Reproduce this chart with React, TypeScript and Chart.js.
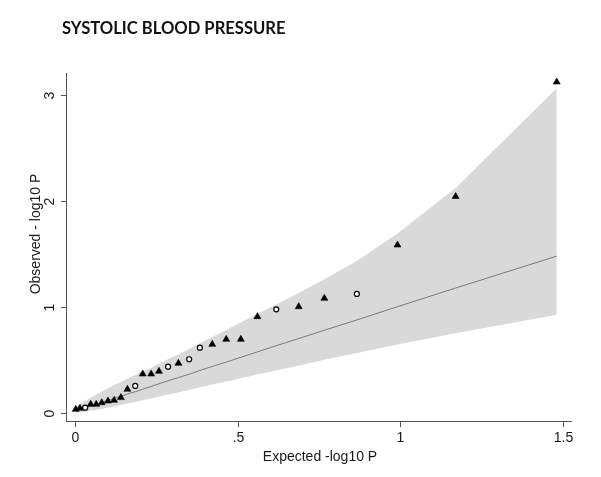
import React, { useEffect, useRef } from 'react';
import { Chart, registerables } from 'chart.js';

Chart.register(...registerables);

// ---- text ----
const TITLE = 'SYSTOLIC BLOOD PRESSURE';
const X_TITLE = 'Expected -log10 P';
const Y_TITLE = 'Observed - log10 P';

// ---- axes ----
const xTickValues = [0, 0.5, 1, 1.5];
const xTickLabels = ['0', '.5', '1', '1.5'];
const yTickValues = [0, 1, 2, 3];
const yTickLabels = ['0', '1', '2', '3'];

// ---- data (ordered from the largest expected value down) ----
const expected = [1.482, 1.171, 0.992, 0.867, 0.767, 0.688, 0.619, 0.561, 0.51, 0.465, 0.422, 0.384, 0.351, 0.318, 0.286, 0.258, 0.234, 0.208, 0.185, 0.161, 0.141, 0.12, 0.101, 0.082, 0.065, 0.048, 0.031, 0.015, 0.002];
const observed = [3.12, 2.04, 1.582, 1.12, 1.079, 1.0, 0.975, 0.906, 0.692, 0.692, 0.645, 0.613, 0.504, 0.466, 0.434, 0.391, 0.365, 0.365, 0.252, 0.221, 0.142, 0.117, 0.11, 0.094, 0.079, 0.079, 0.047, 0.042, 0.032];
const markerKind = ['T', 'T', 'T', 'O', 'T', 'T', 'O', 'T', 'T', 'T', 'T', 'O', 'O', 'T', 'O', 'T', 'T', 'T', 'O', 'T', 'T', 'T', 'T', 'T', 'T', 'T', 'O', 'T', 'T'];
// reference line (observed = expected) and 95% band, at the same x positions
const diagonal = [1.477, 1.176, 1.0, 0.875, 0.778, 0.699, 0.632, 0.574, 0.523, 0.477, 0.436, 0.398, 0.363, 0.331, 0.301, 0.273, 0.247, 0.222, 0.198, 0.176, 0.155, 0.135, 0.115, 0.097, 0.079, 0.062, 0.046, 0.03, 0.015];
const bandUpper = [3.06, 2.12, 1.69, 1.43, 1.26, 1.13, 1.02, 0.93, 0.85, 0.78, 0.715, 0.655, 0.6, 0.55, 0.505, 0.465, 0.425, 0.39, 0.355, 0.32, 0.29, 0.26, 0.23, 0.2, 0.17, 0.14, 0.11, 0.08, 0.05];
const bandLower = [0.923, 0.75, 0.643, 0.563, 0.499, 0.446, 0.399, 0.361, 0.325, 0.294, 0.265, 0.239, 0.215, 0.192, 0.171, 0.152, 0.134, 0.117, 0.101, 0.086, 0.072, 0.059, 0.047, 0.036, 0.026, 0.017, 0.009, 0.004, 0.0004];

const W = 601;
const H = 477;

const axesPlugin = {
  id: 'stataAxes',
  afterDraw(chart: any) {
    const { ctx, chartArea } = chart;
    const xs = chart.scales.x;
    const ys = chart.scales.y;
    const left = chartArea.left;
    const bottom = chartArea.bottom;
    ctx.save();
    ctx.strokeStyle = '#555';
    ctx.lineWidth = 1;
    // axis lines
    ctx.beginPath();
    ctx.moveTo(left + 0.5, chartArea.top);
    ctx.lineTo(left + 0.5, bottom);
    ctx.moveTo(left, bottom - 0.5);
    ctx.lineTo(chartArea.right, bottom - 0.5);
    ctx.stroke();
    // x ticks
    ctx.fillStyle = '#1a1a1a';
    ctx.font = '14px "Liberation Sans", Arial, sans-serif';
    ctx.textAlign = 'center';
    ctx.textBaseline = 'alphabetic';
    xTickValues.forEach((v, i) => {
      const px = Math.round(xs.getPixelForValue(v)) + 0.5;
      ctx.beginPath();
      ctx.moveTo(px, bottom);
      ctx.lineTo(px, bottom + 5);
      ctx.stroke();
      ctx.fillText(xTickLabels[i], px, bottom + 20);
    });
    ctx.fillText(X_TITLE, (left + chartArea.right) / 2 + 1, bottom + 39);
    // y ticks
    yTickValues.forEach((v, i) => {
      const py = Math.round(ys.getPixelForValue(v)) + 0.5;
      ctx.beginPath();
      ctx.moveTo(left - 5, py);
      ctx.lineTo(left, py);
      ctx.stroke();
      ctx.save();
      ctx.translate(left - 12, py);
      ctx.rotate(-Math.PI / 2);
      ctx.fillText(yTickLabels[i], 0, 0);
      ctx.restore();
    });
    ctx.save();
    ctx.translate(left - 26, chartArea.top + 161);
    ctx.rotate(-Math.PI / 2);
    ctx.fillText(Y_TITLE, 0, 0);
    ctx.restore();
    // main title
    ctx.fillStyle = '#111';
    ctx.font = 'bold 16.6px Lato, "Open Sans", sans-serif';
    ctx.textAlign = 'left';
    ctx.fillText(TITLE, 62, 34);
    ctx.restore();
  },
};

const bgPlugin = {
  id: 'whiteBg',
  beforeDraw(chart: any) {
    const { ctx } = chart;
    ctx.save();
    ctx.fillStyle = '#fff';
    ctx.fillRect(0, 0, chart.width, chart.height);
    ctx.restore();
  },
};

export default function App() {
  const ref = useRef<HTMLCanvasElement>(null);
  useEffect(() => {
    const canvas = ref.current;
    if (!canvas) return;
    const pts = expected.map((x, i) => ({ x, y: observed[i] }));
    const tri = pts.filter((_, i) => markerKind[i] === 'T');
    const circ = pts.filter((_, i) => markerKind[i] === 'O');
    const chart = new Chart(canvas, {
      type: 'scatter',
      data: {
        datasets: [
          {
            label: 'triangles',
            data: tri,
            pointStyle: 'triangle',
            pointRadius: 4,
            pointBackgroundColor: '#000',
            pointBorderColor: '#000',
            pointBorderWidth: 0.6,
            showLine: false,
            order: 1,
          },
          {
            label: 'circles',
            data: circ,
            pointStyle: 'circle',
            pointRadius: 2.5,
            pointBackgroundColor: '#fff',
            pointBorderColor: '#000',
            pointBorderWidth: 1.2,
            showLine: false,
            order: 1,
          },
          {
            label: 'expected',
            data: expected.map((x, i) => ({ x, y: diagonal[i] })),
            showLine: true,
            borderColor: '#7a7a7a',
            borderWidth: 1,
            pointRadius: 0,
            order: 5,
          },
          {
            label: 'upper',
            data: expected.map((x, i) => ({ x, y: bandUpper[i] })),
            showLine: true,
            borderColor: 'rgba(0,0,0,0)',
            borderWidth: 0,
            pointRadius: 0,
            fill: '+1',
            backgroundColor: '#d9d9d9',
            order: 10,
          },
          {
            label: 'lower',
            data: expected.map((x, i) => ({ x, y: bandLower[i] })),
            showLine: true,
            borderColor: 'rgba(0,0,0,0)',
            borderWidth: 0,
            pointRadius: 0,
            fill: false,
            order: 10,
          },
        ],
      } as any,
      options: {
        responsive: false,
        animation: false,
        devicePixelRatio: 1,
        events: [],
        layout: { padding: { left: 66, right: 29, top: 73, bottom: 55 } },
        plugins: {
          legend: { display: false },
          tooltip: { enabled: false },
          title: { display: false },
        },
        scales: {
          x: { type: 'linear', display: false, min: -0.028, max: 1.529 },
          y: { type: 'linear', display: false, min: -0.088, max: 3.205 },
        },
      } as any,
      plugins: [bgPlugin, axesPlugin],
    });
    return () => chart.destroy();
  }, []);
  return (
    <div style={{ position: 'fixed', left: 0, top: 0, width: W, height: H, background: '#fff' }}>
      <canvas ref={ref} width={W} height={H} style={{ display: 'block', width: W, height: H }} />
    </div>
  );
}
